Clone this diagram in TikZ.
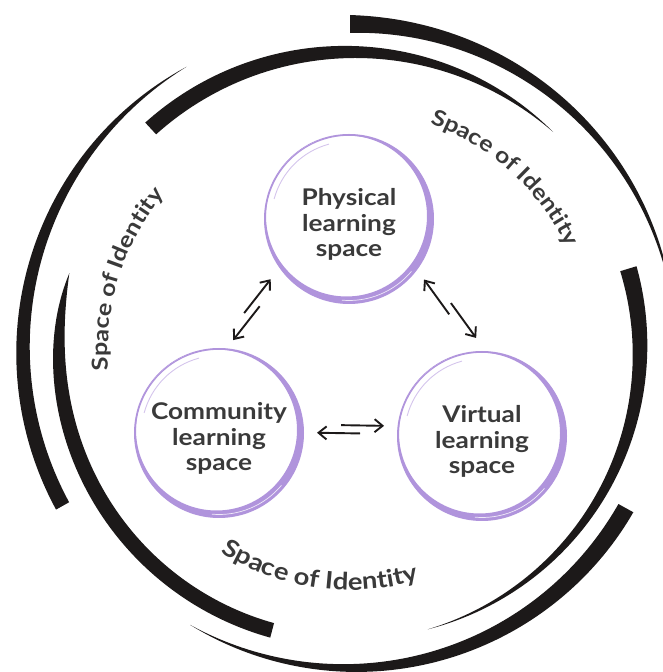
\documentclass[tikz,border=0pt]{standalone}
\usepackage{fontspec}
\usetikzlibrary{calc,arrows.meta,decorations.text}
\newfontfamily\labelfont{Lato}[FakeStretch=1.14]
\definecolor{ink}{RGB}{28,25,25}
\definecolor{lilac}{RGB}{176,148,220}
\definecolor{txt}{RGB}{58,58,58}

% brush stroke round (o): thick end angle, thin end angle, radius, width, taper
\newcommand{\brush}[5]{%
  \fill[ink, shift={(o)}]
    plot[domain=0:1, samples=90, variable=\t] ({#1+(#2-#1)*\t}:{#3+0.5*#4*(1-\t^#5)})
    -- plot[domain=1:0, samples=90, variable=\t] ({#1+(#2-#1)*\t}:{#3-0.5*#4*(1-\t^#5)})
    -- cycle;}

% painted ring round a learning space
\newcommand{\ring}[1]{%
  \fill[lilac, even odd rule] (#1.center) circle[radius=85] ($(#1.center)+(-2.5,3)$) circle[radius=80.5];
  \draw[lilac, line width=1.2pt] (#1.center) circle[radius=83.8];
  \draw[lilac!55, line width=0.9pt] (#1.center) ++(105:77.5) arc[start angle=105, end angle=165, radius=77.5];
  \draw[white, line width=0.7pt, opacity=0.8] (#1.center) ++(-40:81.5) arc[start angle=-40, end angle=-95, radius=81.5];}

% one arrow each way between two anchors
\newcommand{\twoway}[2]{%
  \draw[flow] ($(#1)!56pt!(#2)!4pt!-90:(#2)$) -- ($(#1)!13pt!(#2)!4pt!-90:(#2)$);
  \draw[flow] ($(#2)!56pt!(#1)!4pt!-90:(#1)$) -- ($(#2)!13pt!(#1)!4pt!-90:(#1)$);}

\begin{document}
\begin{tikzpicture}[x=1pt, y=1pt,
  learnspace/.style={circle, minimum size=170pt, inner sep=0pt, align=center, text=txt,
    text height=81pt, text depth=5pt, font=\labelfont\bfseries\fontsize{23}{25.5}\selectfont},
  flow/.style={draw=ink, line width=1.9pt, -{Straight Barb[length=8pt, width=13pt]}},
  idlabel/.style={decorate, decoration={text along path, text align=center, text color=txt,
    text={|\labelfont\bfseries\fontsize{#1}{24}\selectfont|Space of Identity}}},
  idlabel/.default=22]

  \useasboundingbox (0,0) rectangle (663,672);
  \clip (0,0) rectangle (663,672);
  \coordinate (o) at (350,322);

  % Outer strokes
  \brush{132}{47}{298}{16}{2}
  \brush{208.5}{120}{327}{15}{2}
  \brush{254.5}{164.7}{291}{15}{8}
  \brush{90}{5}{326}{18}{0.85}
  \brush{16.3}{-74.5}{290}{17}{1.14}
  \brush{-29.8}{-120.2}{318}{17}{1.5}

  % Labels along the circle
  \path[idlabel] (o) ++(88:240) arc[start angle=88, end angle=8, radius=240];
  \path[idlabel] (o) ++(202.5:242) arc[start angle=202.5, end angle=122.5, radius=242];
  \path[idlabel=24] (o) ++(222:240) arc[start angle=222, end angle=302, radius=240];

  % Define nodes
  \node[learnspace] (phys) at (349,453) {Physical\\learning\\space};
  \node[learnspace] (comm) at (219,239) {Community\\learning\\space};
  \node[learnspace] (virt) at (482,236) {Virtual\\learning\\space};
  \ring{phys}
  \ring{comm}
  \ring{virt}

  % Connect the nodes
  \twoway{phys.218}{comm.88}
  \twoway{phys.326}{virt.91}
  \twoway{comm.3}{virt.176}

\end{tikzpicture}
\end{document}
